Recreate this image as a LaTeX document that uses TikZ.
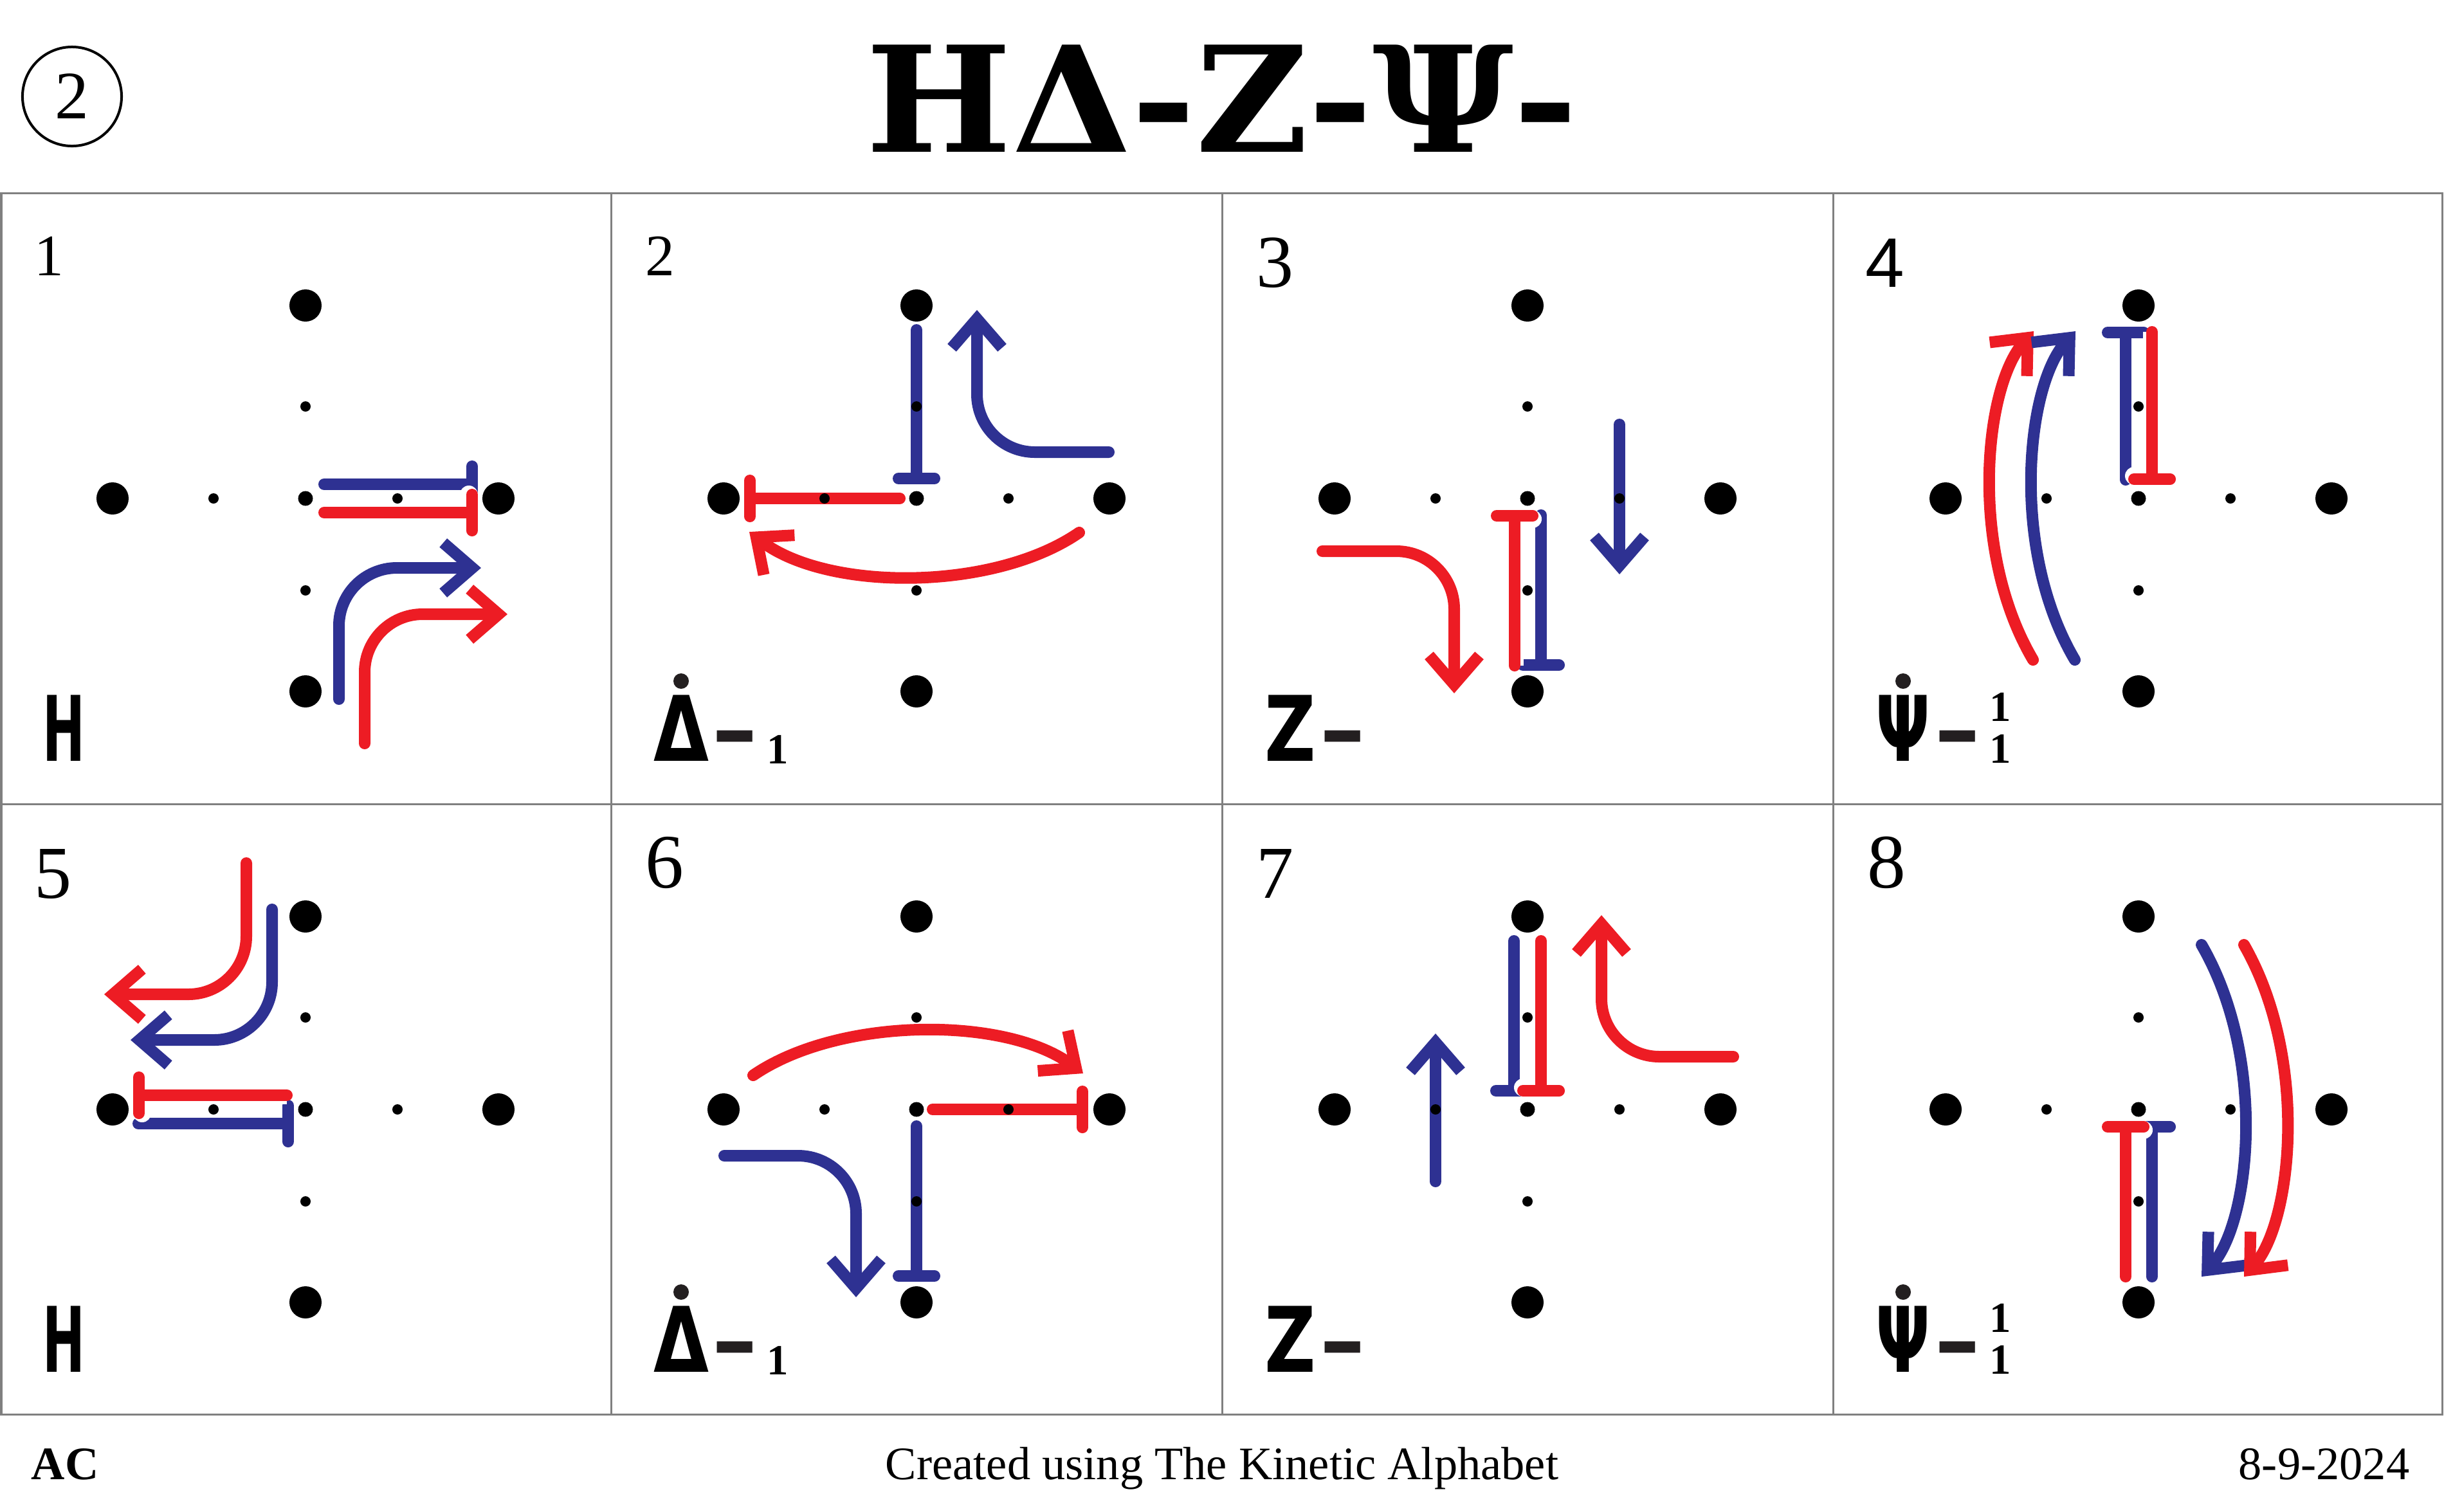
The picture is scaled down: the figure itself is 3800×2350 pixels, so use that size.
\documentclass[tikz,border=0pt]{standalone}
\usepackage{fontspec}
\usepackage{graphicx}
\setmainfont{Liberation Serif}
\newfontfamily\kasans{DejaVu Sans}
\newfontfamily\kaarial{Liberation Sans}
\newfontfamily\kaserif{DejaVu Serif}
\usetikzlibrary{arrows.meta}
\definecolor{kaBlue}{RGB}{46,49,146}
\definecolor{kaRed}{RGB}{237,28,36}
\definecolor{kaInk}{RGB}{35,31,32}
\definecolor{kaGrid}{RGB}{128,128,128}

\begin{document}
\begin{tikzpicture}[
    x=0.01cm, y=-0.01cm,
    gridline/.style={draw=kaGrid, line width=0.03cm},
    move/.style={line width=0.18cm, line cap=round},
    bmove/.style={move, draw=kaBlue},
    rmove/.style={move, draw=kaRed},
    arr/.style={-{Straight Barb[length=0.45cm, width=0.78cm]}},
    hold/.style={-{Bar[width=0.56cm, round]}},
    hook/.style={rounded corners=0.9cm},
    halo/.style={preaction={draw=white, line width=0.28cm}},
    num/.style={anchor=base west, inner sep=0pt},
    numx/.style={num, font=\fontsize{26pt}{26pt}\selectfont},
    numd/.style={num, font=\fontsize{33pt}{33pt}\selectfont},
    numa/.style={num, font=\fontsize{34pt}{34pt}\selectfont},
    glyph/.style={anchor=base west, inner sep=0pt, font=\kasans\bfseries\fontsize{40pt}{40pt}\selectfont},
    kadash/.style={glyph, text=kaInk},
    subidx/.style={anchor=base west, inner sep=0pt, font=\bfseries\fontsize{19pt}{18.5pt}\selectfont},
    subpair/.style={subidx, anchor=south west, align=left},
    note/.style={inner sep=0pt, font=\fontsize{20.6pt}{20.6pt}\selectfont}
]
    \useasboundingbox (0,0) rectangle (3800,2350);

    % header
    \node[circle, draw, line width=0.04cm, minimum size=1.54cm, inner sep=0pt, font=\fontsize{30pt}{30pt}\selectfont] (sheet) at (112,150) {2};
    \node[anchor=base, inner sep=0pt, font=\kaserif\bfseries\fontsize{65pt}{65pt}\selectfont] (title) at (1900,236) {\scalebox{1.05}[1]{HΔ-Z-Ψ-}};

    % grid
    \draw[gridline] (2,300) rectangle (3797,2199);
    \draw[gridline] (2,1250) -- (3797,1250);
    \foreach \x in {950,1900,2850}
        \draw[gridline] (\x,300) -- (\x,2199);

    % cell 1
    \begin{scope}[shift={(475,775)}]
        \node[numx] (n1) at (-422,-347) {1};
        \node[glyph] (g1) at (-409,408) {\scalebox{0.56}[1]{H}};
        \draw[bmove, hold] (29,-22) -- (268,-22);
        \draw[rmove, hold, halo] (29,22) -- (268,22);
        \draw[bmove, arr, hook] (52,312) |- (273,108);
        \draw[rmove, arr, hook] (92,381) |- (314,180);
    \end{scope}

    % cell 2
    \begin{scope}[shift={(1425,775)}]
        \node[numx] (n2) at (-422,-347) {2};
        \node[glyph] (g2) at (-409,408) {\scalebox{0.79}[1]{Δ}};
        \node[kadash] (m2) at (-318,408) {–};
        \node[subidx] (i2) at (-233,412) {1};
        \fill[kaInk] (-366,284) circle[radius=0.12cm];
        \draw[bmove, hold] (0,-262) -- (0,-22);
        \draw[rmove, hold] (-26,0) -- (-268,0);
        \draw[bmove, arr, hook] (299,-72) -| (94,-293);
        \draw[rmove, arr] (253,53) .. controls (120,145) and (-140,145) .. (-260,52);
    \end{scope}

    % cell 3
    \begin{scope}[shift={(2375,775)}]
        \node[numd] (n3) at (-422,-329) {3};
        \node[glyph] (g3) at (-409,408) {\scalebox{0.78}[1]{Z}};
        \node[kadash] (m3) at (-323,408) {–};
        \draw[bmove, hold] (21,26) -- (21,268);
        \draw[rmove, hold, halo] (-20,260) -- (-20,18);
        \draw[bmove, arr] (143,-115) -- (143,118);
        \draw[rmove, arr, hook] (-319,82) -| (-114,303);
    \end{scope}

    % cell 4
    \begin{scope}[shift={(3325,775)}]
        \node[num, font=\kaarial\fontsize{31pt}{31pt}\selectfont] (n4) at (-425,-329) {4};
        \node[glyph] (g4) at (-409,408) {\scalebox{0.71}[1]{Ψ}};
        \node[kadash] (m4) at (-317,408) {–};
        \node[subpair] (i4) at (-232,412) {1\\1};
        \fill[kaInk] (-366,284) circle[radius=0.12cm];
        \draw[bmove, hold] (-20,-29) -- (-20,-267);
        \draw[rmove, hold, halo] (21,-259) -- (21,-21);
        \draw[rmove, arr] (-164,251) .. controls (-265,80) and (-240,-175) .. (-163,-260);
        \draw[bmove, arr] (-99,251) .. controls (-200,80) and (-175,-175) .. (-98,-260);
    \end{scope}

    % cell 5
    \begin{scope}[shift={(475,1725)}]
        \node[numd] (n5) at (-422,-329) {5};
        \node[glyph] (g5) at (-409,408) {\scalebox{0.56}[1]{H}};
        \draw[bmove, hold] (-260,22) -- (-18,22);
        \draw[rmove, hold, halo] (-29,-22) -- (-268,-22);
        \draw[rmove, arr, hook] (-92,-383) |- (-313,-179);
        \draw[bmove, arr, hook] (-52,-311) |- (-272,-108);
    \end{scope}

    % cell 6
    \begin{scope}[shift={(1425,1725)}]
        \node[numa] (n6) at (-422,-345) {6};
        \node[glyph] (g6) at (-409,408) {\scalebox{0.79}[1]{Δ}};
        \node[kadash] (m6) at (-318,408) {–};
        \node[subidx] (i6) at (-233,412) {1};
        \fill[kaInk] (-366,284) circle[radius=0.12cm];
        \draw[rmove, arr] (-254,-53) .. controls (-120,-145) and (140,-145) .. (259,-56);
        \draw[rmove, hold] (25,0) -- (267,0);
        \draw[bmove, hold] (0,26) -- (0,268);
        \draw[bmove, arr, hook] (-299,72) -| (-94,292);
    \end{scope}

    % cell 7
    \begin{scope}[shift={(2375,1725)}]
        \node[numd] (n7) at (-422,-329) {7};
        \node[glyph] (g7) at (-409,408) {\scalebox{0.78}[1]{Z}};
        \node[kadash] (m7) at (-323,408) {–};
        \draw[bmove, hold] (-21,-262) -- (-21,-20);
        \draw[rmove, hold, halo] (21,-262) -- (21,-20);
        \draw[bmove, arr] (-143,112) -- (-143,-118);
        \draw[rmove, arr, hook] (320,-82) -| (115,-302);
    \end{scope}

    % cell 8
    \begin{scope}[shift={(3325,1725)}]
        \node[numa] (n8) at (-422,-345) {8};
        \node[glyph] (g8) at (-409,408) {\scalebox{0.71}[1]{Ψ}};
        \node[kadash] (m8) at (-317,408) {–};
        \node[subpair] (i8) at (-232,412) {1\\1};
        \fill[kaInk] (-366,284) circle[radius=0.12cm];
        \draw[bmove, hold] (21,260) -- (21,18);
        \draw[rmove, hold, halo] (-20,260) -- (-20,18);
        \draw[bmove, arr] (98,-256) .. controls (200,-80) and (175,175) .. (98,260);
        \draw[rmove, arr] (164,-256) .. controls (265,-80) and (240,175) .. (164,260);
    \end{scope}

    % dots on top
    \foreach \cx/\cy in {475/775,1425/775,2375/775,3325/775,475/1725,1425/1725,2375/1725,3325/1725}{
        \begin{scope}[shift={(\cx,\cy)}]
            \foreach \d in {-300,300}{
                \fill (\d,0) circle[radius=0.25cm];
                \fill (0,\d) circle[radius=0.25cm];
            }
            \foreach \d in {-143,143}{
                \fill (\d,0) circle[radius=0.08cm];
                \fill (0,\d) circle[radius=0.08cm];
            }
            \fill (0,0) circle[radius=0.115cm];
        \end{scope}
    }

    % footer
    \node[note, anchor=base west, font=\bfseries\fontsize{20.6pt}{20.6pt}\selectfont] (author) at (48,2300) {AC};
    \node[note, anchor=base] (credit) at (1900,2300) {Created using The Kinetic Alphabet};
    \node[note, anchor=base east] (date) at (3747,2300) {8-9-2024};
\end{tikzpicture}
\end{document}
